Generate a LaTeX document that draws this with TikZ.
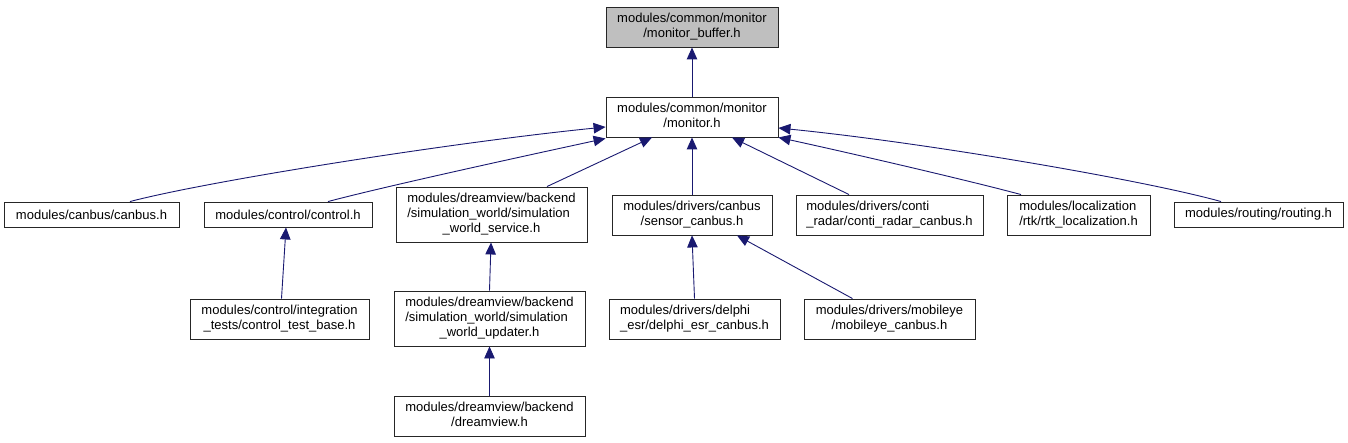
\documentclass[tikz,border=0pt]{standalone}
\usepackage{fontspec}
\setmainfont{Liberation Sans}
\usepackage{xcolor}
\usepackage{tikz}
\usetikzlibrary{arrows.meta, calc}

\definecolor{edgeblue}{HTML}{191970}
\definecolor{curgray}{HTML}{BFBFBF}

% label: lines left-justified, last line centred
\newcommand{\twolines}[2]{\begin{tabular}{@{}l@{}}#1\\\multicolumn{1}{@{}c@{}}{#2}\end{tabular}}
\newcommand{\threelines}[3]{\begin{tabular}{@{}l@{}}#1\\#2\\\multicolumn{1}{@{}c@{}}{#3}\end{tabular}}

\begin{document}
\begin{tikzpicture}[
    x=1pt, y=-1pt,
    file/.style={rectangle, draw=black!85, line width=0.9pt, fill=white, inner sep=0pt, font=\fontsize{13}{15}\selectfont},
    cur/.style={file, fill=curgray},
    arr/.style={-{Triangle[length=12pt, width=10.5pt]}, line width=0.9pt, draw=edgeblue}
]
    \useasboundingbox (0,0) rectangle (1348,443);

    % Hàng 0 và 1: tệp đang xét và monitor.h
    \node[cur, minimum width=172pt, minimum height=40pt] (buf) at (692,27) {\twolines{modules/common/monitor}{/monitor\_buffer.h}};
    \node[file, minimum width=172pt, minimum height=40pt] (mon) at (692,117) {\twolines{modules/common/monitor}{/monitor.h}};

    % Hàng 2
    \node[file, minimum width=175pt, minimum height=25pt] (canbus) at (91.5,214.5) {modules/canbus/canbus.h};
    \node[file, minimum width=168pt, minimum height=25pt] (control) at (288,214.5) {modules/control/control.h};
    \node[file, minimum width=191pt, minimum height=55pt] (simsvc) at (491.5,214.5) {\threelines{modules/dreamview/backend}{/simulation\_world/simulation}{\_world\_service.h}};
    \node[file, minimum width=160pt, minimum height=40pt] (sensor) at (692,215) {\twolines{modules/drivers/canbus}{/sensor\_canbus.h}};
    \node[file, minimum width=187pt, minimum height=40pt] (conti) at (889.5,215) {\twolines{modules/drivers/conti}{\_radar/conti\_radar\_canbus.h}};
    \node[file, minimum width=143pt, minimum height=40pt] (rtk) at (1078.5,215) {\twolines{modules/localization}{/rtk/rtk\_localization.h}};
    \node[file, minimum width=169pt, minimum height=25pt] (routing) at (1258.5,214.5) {modules/routing/routing.h};

    % Hàng 3
    \node[file, minimum width=179pt, minimum height=40pt] (ctltest) at (279.5,319) {\twolines{modules/control/integration}{\_tests/control\_test\_base.h}};
    \node[file, minimum width=191pt, minimum height=55pt] (simupd) at (489.5,318.5) {\threelines{modules/dreamview/backend}{/simulation\_world/simulation}{\_world\_updater.h}};
    \node[file, minimum width=171pt, minimum height=40pt] (delphi) at (694.5,319) {\twolines{modules/drivers/delphi}{\_esr/delphi\_esr\_canbus.h}};
    \node[file, minimum width=171pt, minimum height=40pt] (mobileye) at (889.5,319) {\twolines{modules/drivers/mobileye}{/mobileye\_canbus.h}};

    % Hàng 4
    \node[file, minimum width=191pt, minimum height=40pt] (dview) at (489.5,416) {\twolines{modules/dreamview/backend}{/dreamview.h}};

    % monitor.h -> monitor_buffer.h
    \draw[arr] (mon.north) -- (buf.south);

    % Hàng 2 -> monitor.h
    \draw[arr] ([xshift=38.5pt]canbus.north) .. controls +(80,-21) and +(-150,15) .. ([yshift=-10pt]mon.west);
    \draw[arr] ([xshift=40pt]control.north) .. controls +(60,-16) and +(-60,13) .. ([yshift=-1pt]mon.south west);
    \draw[arr] ([xshift=55.5pt]simsvc.north) -- ([xshift=-40pt]mon.south);
    \draw[arr] (sensor.north) -- (mon.south);
    \draw[arr] ([xshift=-40.5pt]conti.north) -- ([xshift=40pt]mon.south);
    \draw[arr] ([xshift=-57.5pt]rtk.north) .. controls +(-60,-16) and +(60,13) .. (mon.south east);
    \draw[arr] ([xshift=-37.5pt]routing.north) .. controls +(-75,-21) and +(150,15) .. ([yshift=-11pt]mon.east);

    % Hàng 3, 4 -> hàng trên
    \draw[arr] ([xshift=2pt]ctltest.north) -- ([xshift=-2pt]control.south);
    \draw[arr] (simupd.north) -- ([xshift=-0.5pt]simsvc.south);
    \draw[arr] (dview.north) -- (simupd.south);
    \draw[arr] (delphi.north) -- (sensor.south);
    \draw[arr] ([xshift=-37pt]mobileye.north) -- ([xshift=45pt]sensor.south);
\end{tikzpicture}
\end{document}
